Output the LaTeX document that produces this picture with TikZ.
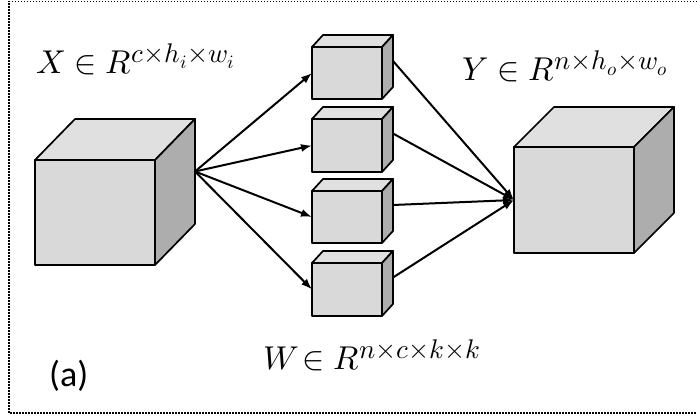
\documentclass[tikz,border=0pt]{standalone}
\usepackage{fontspec}
\usepackage{unicode-math}
\setmainfont{Carlito}
\setmathfont{Latin Modern Math}
\usetikzlibrary{calc,arrows.meta}
\definecolor{frontgray}{HTML}{D9D9D9}
\definecolor{topgray}{HTML}{E0E0E0}
\definecolor{sidegray}{HTML}{ADADAD}
\tikzset{
  frontface/.style={draw=black, fill=frontgray, line width=1.7pt, inner sep=0pt, outer sep=0pt, line join=round},
  topface/.style={draw=black, fill=topgray, line width=1.7pt, line join=round},
  sideface/.style={draw=black, fill=sidegray, line width=1.7pt, line join=round},
  conn/.style={line width=2pt, -{Latex[length=11pt,width=8pt]}},
  frame/.style={line width=1.3pt, dash pattern=on 1.2pt off 1.8pt},
  mathlabel/.style={anchor=base west, inner sep=0pt, font=\fontsize{33}{40}\selectfont},
  caplabel/.style={anchor=base west, inner sep=0pt, font=\fontsize{36}{43}\selectfont}
}
\newcommand\supsize[1]{\mbox{\fontsize{27}{32}\selectfont$#1$}}
\newcommand\tm{{\times}}
% #1 name, #2 left x, #3 top y, #4 width, #5 height, #6 depth dx, #7 depth dy (up)
\newcommand\boxcube[7]{%
  \node[frontface, minimum width=#4pt, minimum height=#5pt, anchor=north west] (#1) at (#2,#3) {};
  \filldraw[topface] (#1.north west) -- ++(#6pt,#7pt) -- ++(#4pt,0pt) -- (#1.north east) -- cycle;
  \filldraw[sideface] (#1.north east) -- ++(#6pt,#7pt) -- ++(0pt,-#5pt) -- (#1.south east) -- cycle;
  \coordinate (#1-out) at ($(#1.east)+(#6pt,#7pt)$);
}
\begin{document}
\begin{tikzpicture}[x=1pt,y=-1pt]
\useasboundingbox (0,0) rectangle (697,419);
\draw[frame] (697,1.5) -- (9,1.5) -- (9,413) -- (697,413);

\boxcube{L}{35}{160}{120}{105}{40}{41}
\boxcube{S1}{312}{47}{70}{52}{11}{12}
\boxcube{S2}{312}{119}{70}{53}{11}{12}
\boxcube{S3}{312}{191}{70}{52}{11}{12}
\boxcube{S4}{312}{263}{70}{53}{11}{12}
\boxcube{R}{514}{147}{120}{106}{40}{40}

\foreach \s in {S1,S2,S3,S4}{
  \draw[conn] (L-out) -- (\s.west);
  \draw[conn] (\s-out) -- (R.west);
}

\node[mathlabel] (tx) at (36,74) {$X\in R^{\supsize{c\tm h_i\tm w_i}}$};
\node[mathlabel] (ty) at (462,81) {$Y\in R^{\supsize{n\tm h_o\tm w_o}}$};
\node[mathlabel] (tw) at (263,370) {$W\!\in R^{\supsize{n\tm c\tm k\tm k}}$};
\node[caplabel] (ta) at (49,387) {(a)};
\end{tikzpicture}
\end{document}
